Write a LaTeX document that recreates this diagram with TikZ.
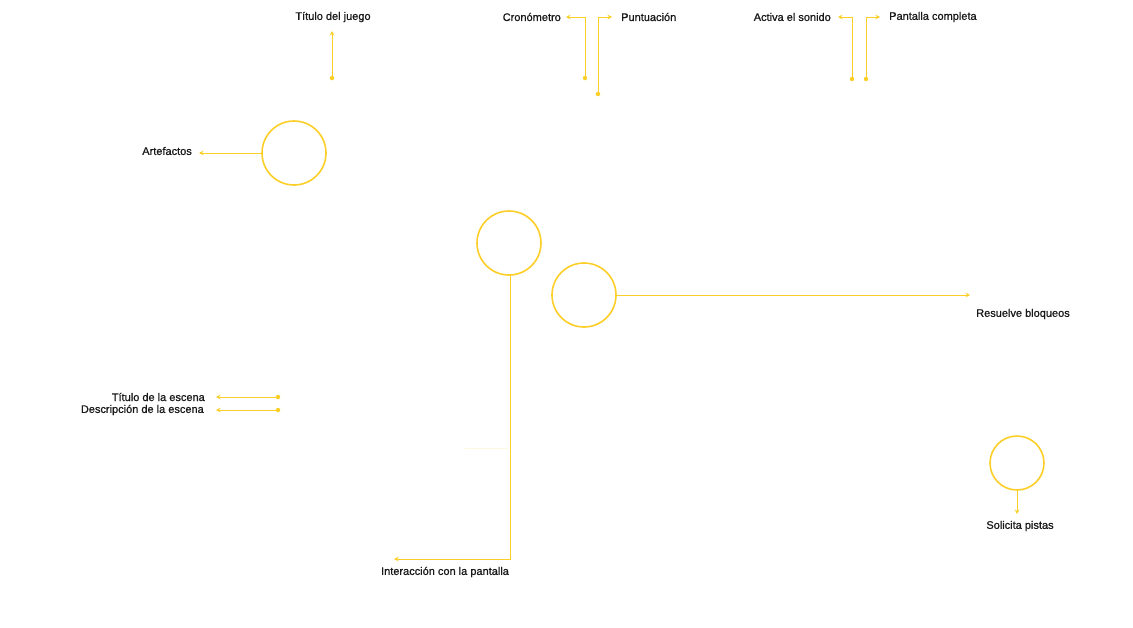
\documentclass[tikz,border=0pt]{standalone}
\usepackage{fontspec}
\setmainfont{Liberation Sans}
\newfontfamily\lblfont{Liberation Sans}[FakeBold=0.9]
\usetikzlibrary{arrows.meta}
\definecolor{gold}{RGB}{252,206,40}
\tikzset{
  lbl/.style={font=\lblfont\fontsize{11}{13}\selectfont, inner sep=0pt, text=black!90},
  ring/.style={circle, draw=gold, line width=1.6pt, minimum size=#1, inner sep=0pt},
  conn/.style={draw=gold, line width=1pt, -{Stealth[length=4.5pt,width=4.5pt]}},
  dotstart/.style={fill=gold, circle, inner sep=0pt, minimum size=4.5pt},
}
\begin{document}
\begin{tikzpicture}[x=1pt,y=-1pt]
\useasboundingbox (0,0) rectangle (1133,627);
% labels
\node[lbl] (tj) at (333,17) {Título del juego};
\node[lbl, anchor=east] (cr) at (561,17) {Cronómetro};
\node[lbl, anchor=west] (pu) at (621,17) {Puntuación};
\node[lbl, anchor=east] (as) at (831,17) {Activa el sonido};
\node[lbl, anchor=west] (pc) at (889,17) {Pantalla completa};
\node[lbl, anchor=east] (ar) at (192,151) {Artefactos};
\node[lbl, anchor=east] (te) at (205,397) {Título de la escena};
\node[lbl, anchor=east] (de) at (204,410) {Descripción de la escena};
\node[lbl] (ip) at (445,572) {Interacción con la pantalla};
\node[lbl] (rb) at (1023,314) {Resuelve bloqueos};
\node[lbl] (sp) at (1020,526) {Solicita pistas};
% circles
\node[ring=64pt] (c1) at (294,153) {};
\node[ring=64pt] (c2) at (509,243) {};
\node[ring=64pt] (c3) at (584,295) {};
\node[ring=54pt] (c4) at (1017,463) {};
% dot coordinates
\coordinate (d1) at (332,78);
\coordinate (d1e) at (332,31);
\coordinate (d2) at (585,78);
\coordinate (d2e) at (566,17);
\coordinate (d3) at (598,94);
\coordinate (d3e) at (612,17);
\coordinate (d4) at (852,79);
\coordinate (d4e) at (838,17);
\coordinate (d5) at (866,79);
\coordinate (d5e) at (880,17);
\coordinate (d6) at (278,397);
\coordinate (d6e) at (216,397);
\coordinate (d7) at (278,410);
\coordinate (d7e) at (216,410);
\coordinate (a1e) at (199,153);
\coordinate (c2b) at (510,275);
\coordinate (c2k) at (510,559);
\coordinate (c2e) at (394,559);
\coordinate (c3e) at (970,295);
\coordinate (c4e) at (1017,514);
\coordinate (f1) at (465,448);
\coordinate (f2) at (508,448);
% connectors
\draw[conn] (d1) -- (d1e);
\draw[conn] (d2) |- (d2e);
\draw[conn] (d3) |- (d3e);
\draw[conn] (d4) |- (d4e);
\draw[conn] (d5) |- (d5e);
\draw[conn] (d6) -- (d6e);
\draw[conn] (d7) -- (d7e);
\draw[conn] (c1.west) -- (a1e);
\draw[conn] (c2b) -- (c2k) -- (c2e);
\draw[conn] (c3.east) -- (c3e);
\draw[conn] (c4.south) -- (c4e);
\foreach \d in {d1,d2,d3,d4,d5,d6,d7} \node[dotstart] at (\d) {};
\draw[gold!15, line width=0.8pt] (f1) -- (f2);
\end{tikzpicture}
\end{document}
